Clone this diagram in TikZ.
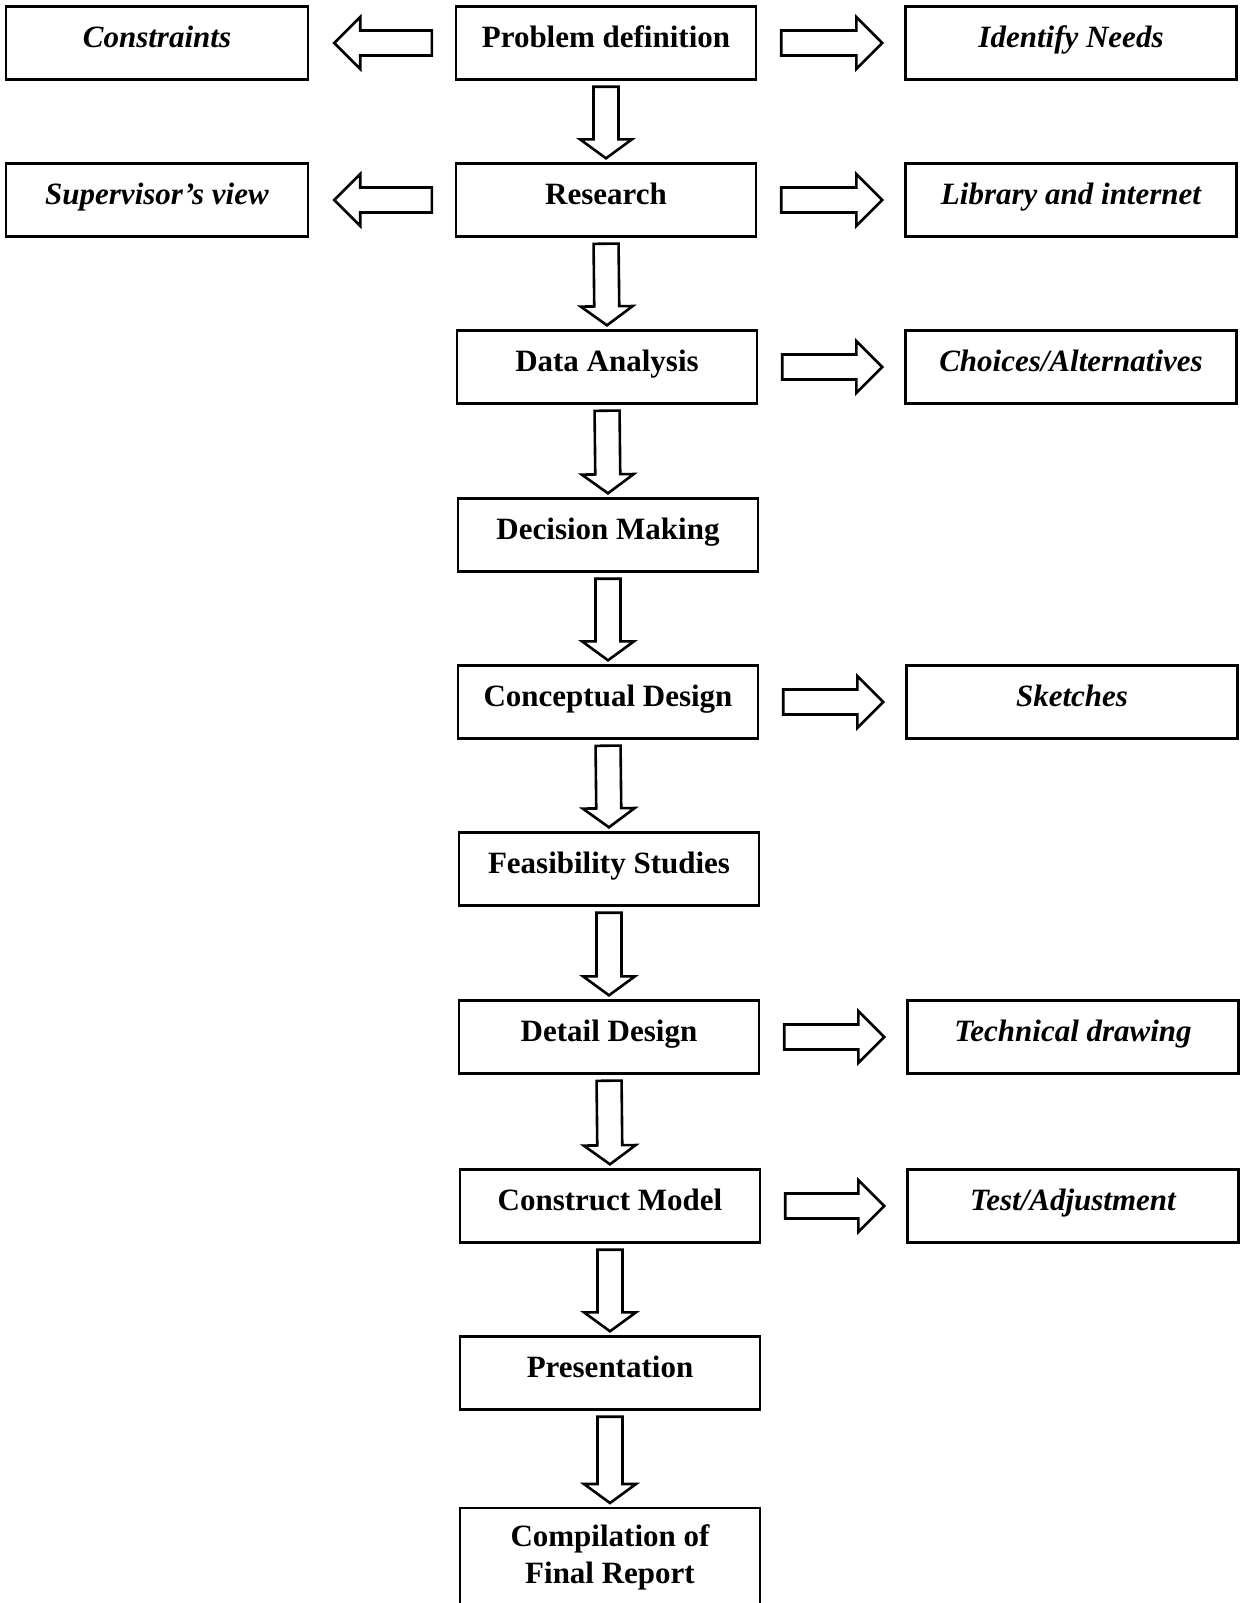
\documentclass[tikz,border=0pt]{standalone}
\usepackage{fontspec}
\setmainfont{Liberation Serif}
\usetikzlibrary{calc}

\tikzset{
    blk gap a/.store in=\blkga,
    blk gap b/.store in=\blkgb,
    blk head/.store in=\blkhl,
    blk/.style={draw, line width=1.3pt, line join=miter,
        blk gap a=12pt, blk gap b=11pt, blk head=13pt,
        to path={
            ($(\tikztostart)!\blkga!(\tikztotarget)$) coordinate (ba)
            ($(\tikztotarget)!\blkgb!(\tikztostart)$) coordinate (bb)
            ($(bb)!\blkhl!(ba)$) coordinate (bc)
            ($(ba)!6.25pt!90:(bb)$) -- ($(bc)!6.25pt!90:(bb)$) -- ($(bc)!13pt!90:(bb)$) -- (bb)
            -- ($(bc)!13pt!-90:(bb)$) -- ($(bc)!6.25pt!-90:(bb)$) -- ($(ba)!6.25pt!-90:(bb)$) -- cycle}},
    down/.style={blk, blk gap a=3pt, blk gap b=2pt, blk head=9.5pt},
    back/.style={blk, blk gap a=11.5pt, blk gap b=12.5pt}
}

\begin{document}
\begin{tikzpicture}[x=0.5pt, y=-0.5pt,
    box/.style={draw, line width=1.2pt, minimum width=150pt, minimum height=36.5pt, inner sep=2pt,
        font=\fontsize{15.5}{18.5}\selectfont\bfseries},
    stage/.style={box, text height=10pt, text depth=6pt},
    note/.style={stage, minimum width=165.5pt, font=\fontsize{15.5}{18.5}\selectfont\bfseries\itshape}]

    \useasboundingbox (0,0) rectangle (1240,1603);

    % main column
    \node (pd) [stage] at (606,43) {Problem definition};
    \node (rs) [stage] at (606,200) {Research};
    \node (da) [stage] at (607,367) {Data Analysis};
    \node (dm) [stage] at (608,535) {Decision Making};
    \node (cd) [stage] at (608,702) {Conceptual Design};
    \node (fs) [stage] at (609,869) {Feasibility Studies};
    \node (dd) [stage] at (609,1037) {Detail Design};
    \node (cm) [stage] at (610,1206) {Construct Model};
    \node (pr) [stage] at (610,1373) {Presentation};
    \node (cf) [box, align=center, anchor=north, minimum height=49pt] at (610,1507) {Compilation of\\Final Report};

    % side boxes
    \node (ct) [note, minimum width=151pt] at (157,43) {Constraints};
    \node (sv) [note, minimum width=151pt] at (157,200) {Supervisor’s view};
    \node (id) [note] at (1071,43) {Identify Needs};
    \node (lb) [note] at (1071,200) {Library and internet};
    \node (ch) [note] at (1071,367) {Choices/Alternatives};
    \node (sk) [note] at (1072,702) {Sketches};
    \node (td) [note] at (1073,1037) {Technical drawing};
    \node (ta) [note] at (1073,1206) {Test/Adjustment};

    \foreach \a/\b in {pd/rs, rs/da, da/dm, dm/cd, cd/fs, fs/dd, dd/cm, cm/pr, pr/cf}
        \draw[down] (\a.south) to (\b.north);

    \foreach \a/\b in {pd/id, rs/lb, da/ch, cd/sk, dd/td, cm/ta}
        \draw[blk] (\a.east) to (\b.west);

    \draw[back] (pd.west) to (ct.east);
    \draw[back] (rs.west) to (sv.east);

\end{tikzpicture}
\end{document}
